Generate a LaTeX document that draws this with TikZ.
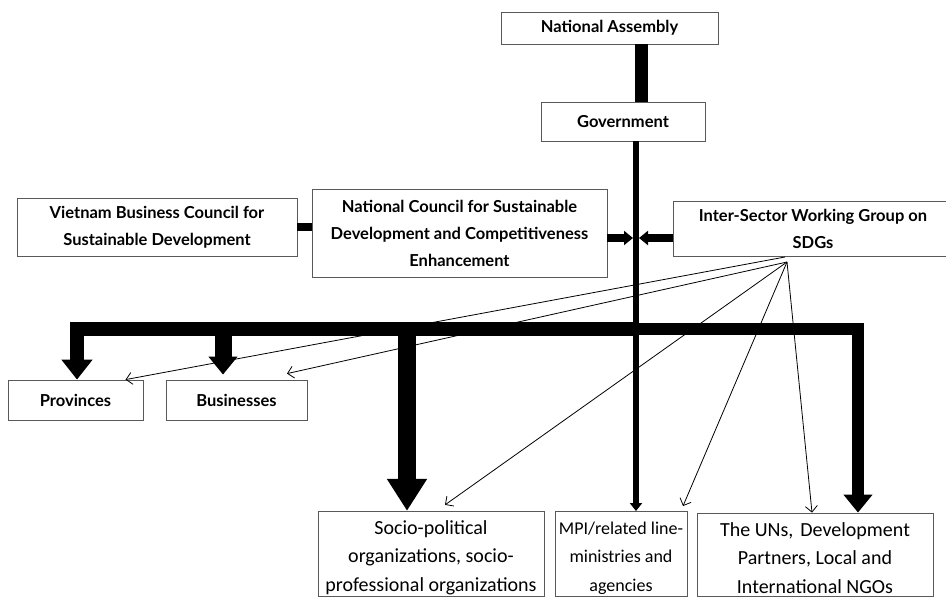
\documentclass[tikz,border=0pt]{standalone}
\usepackage{fontspec}
\setmainfont{Lato}
\newfontfamily\calib{Carlito}
\usetikzlibrary{arrows.meta,positioning}

\tikzset{
  unitbox/.style={draw=black!65, line width=0.8pt, align=center, inner sep=2pt,
    font=\bfseries\fontsize{16.5}{27}\selectfont},
  lowbox/.style={draw=black!65, line width=0.8pt, align=center, inner sep=2pt,
    font=\calib\fontsize{20}{28.5}\selectfont},
  reportarr/.style={line width=0.8pt, -{Straight Barb[length=6pt,width=12pt]}}
}
\newcommand{\lowstrut}{\rule{0pt}{21pt}}

\begin{document}
\begin{tikzpicture}[x=1pt,y=-1pt]
\useasboundingbox (0,0) rectangle (946,597);

\node[unitbox, minimum width=217pt, minimum height=32pt] (na) at (609.5,28) {National Assembly};
\node[unitbox, minimum width=164pt, minimum height=39pt] (gov) at (623,121.5) {Government};
\node[unitbox, minimum width=280pt, minimum height=58pt] (vbc) at (157,227) {Vietnam Business Council for\\Sustainable Development};
\node[unitbox, minimum width=295pt, minimum height=88pt] (ncsd) at (459.5,233) {National Council for Sustainable\\Development and Competitiveness\\Enhancement};
\node[unitbox, minimum width=280pt, minimum height=55pt] (isw) at (813,228.5) {Inter-Sector Working Group on\\SDGs};
\node[unitbox, minimum width=135pt, minimum height=40pt] (prov) at (75.5,400) {Provinces};
\node[unitbox, minimum width=141pt, minimum height=40pt] (bus) at (236.5,400) {Businesses};
\node[lowbox, minimum width=226pt, minimum height=84pt] (socio) at (431,554) {\lowstrut Socio-political\\organizations, socio-\\professional organizations};
\node[lowbox, minimum width=132pt, minimum height=84pt, font=\calib\fontsize{18}{28.5}\selectfont] (mpi) at (621,554) {\lowstrut MPI/related line-\\ministries and\\agencies};
\node[lowbox, minimum width=236pt, minimum height=83pt] (uns) at (815,554.5) {\lowstrut The UNs,\hspace{7pt}Development\\Partners, Local and\\International NGOs};

\coordinate (nabar) at (641.5,0);
\coordinate (hub) at (636,329);
\coordinate (spineL) at (633,238);
\coordinate (spineR) at (639,238);
\coordinate (bustip) at ([xshift=-13.5pt,yshift=5pt]bus.north);
\coordinate (sociotip) at ([xshift=-24pt]socio.north);
\coordinate (fanA) at (785,257);
\coordinate (fanB) at (787,262);

% chain of command
\draw[line width=13pt] (na.south -| nabar) -- (gov.north -| nabar);
\draw[line width=6pt, -{Triangle[width=12pt,length=8pt]}] (gov.south -| hub) -- (mpi.north -| hub);
\draw[line width=8pt] (vbc.east) -- (ncsd.west |- vbc.east);
\draw[line width=8pt, -{Triangle[width=14pt,length=9pt]}] (ncsd.east |- spineL) -- (spineL);
\draw[line width=8pt, -{Triangle[width=14pt,length=9pt]}] (isw.west |- spineR) -- (spineR);

\draw[line width=14pt, line join=miter, -{Triangle[width=30pt,length=20pt]}] (hub) -| ([xshift=1.5pt]prov.north);
\draw[line width=12pt, line join=miter, -{Triangle[width=28pt,length=18pt]}] (hub) -| ([xshift=43pt]uns.north);
\draw[line width=17pt, -{Triangle[width=28pt,length=18pt]}] (bustip |- hub) -- (bustip);
\draw[line width=18pt, -{Triangle[width=38pt,length=32pt]}] (sociotip |- hub) -- (sociotip);

% reporting lines
\draw[reportarr] (fanA) -- ([xshift=50pt]prov.north);
\draw[reportarr] (fanB) -- ([xshift=50.5pt,yshift=6pt]bus.north);
\draw[reportarr] (fanB) -- ([xshift=14pt,yshift=6pt]socio.north);
\draw[reportarr] (fanB) -- ([xshift=62pt,yshift=5pt]mpi.north);
\draw[reportarr] (fanB) -- ([xshift=-3pt]uns.north);

\end{tikzpicture}
\end{document}
